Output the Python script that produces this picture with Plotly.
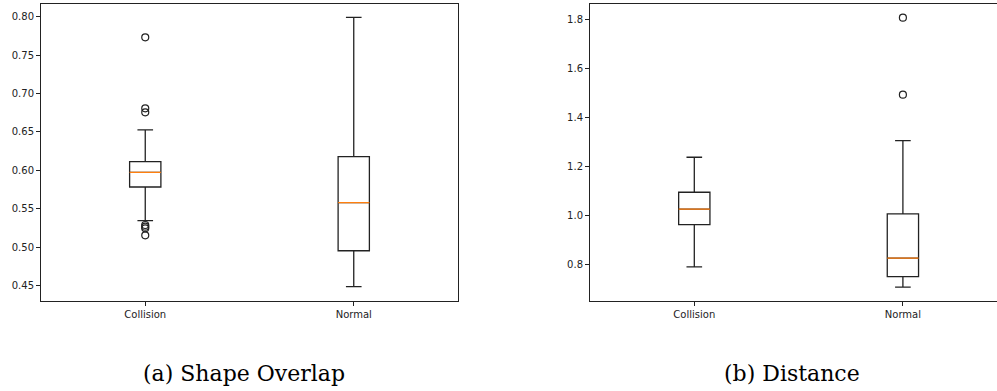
import plotly.graph_objects as go

# ---- data ----
categories = ["Collision", "Normal"]
positions = [1, 2]

# (a) Shape Overlap
overlap_lower = [0.5346, 0.4487]
overlap_q1 = [0.5784, 0.4955]
overlap_median = [0.5975, 0.5580]
overlap_q3 = [0.6113, 0.6179]
overlap_upper = [0.6526, 0.7992]
overlap_outliers_collision = [0.7732, 0.6808, 0.6756, 0.5290, 0.5268, 0.5247, 0.5156]
overlap_outliers_normal = []

# (b) Distance
dist_lower = [0.7890, 0.7064]
dist_q1 = [0.9616, 0.7497]
dist_median = [1.0243, 0.8247]
dist_q3 = [1.0936, 1.0052]
dist_upper = [1.2363, 1.3040]
dist_outliers_collision = []
dist_outliers_normal = [1.8053, 1.4915]

captions = ["(a) Shape Overlap", "(b) Distance"]

# ---- styling ----
BLACK = "#222222"
ORANGE = "#ff7f0e"
W, H = 997, 391
LW = 1.3

fig = go.Figure()


def add_panel(xa, ya, lower, q1, med, q3, upper, out_c, out_n):
    fig.add_trace(go.Box(
        x=positions, q1=q1, median=med, q3=q3, lowerfence=lower, upperfence=upper,
        width=0.15, whiskerwidth=0.5, boxpoints=False,
        line=dict(color=BLACK, width=LW), fillcolor="rgba(0,0,0,0)",
        xaxis=xa, yaxis=ya, showlegend=False, hoverinfo="skip"))
    # orange median line drawn as a degenerate box at the median
    fig.add_trace(go.Box(
        x=positions, q1=med, median=med, q3=med, lowerfence=med, upperfence=med,
        width=0.15, whiskerwidth=0, boxpoints=False,
        line=dict(color=ORANGE, width=1.2), fillcolor="rgba(0,0,0,0)",
        xaxis=xa, yaxis=ya, showlegend=False, hoverinfo="skip"))
    ox = [positions[0]] * len(out_c) + [positions[1]] * len(out_n)
    oy = list(out_c) + list(out_n)
    fig.add_trace(go.Scatter(
        x=ox, y=oy, mode="markers",
        marker=dict(symbol="circle-open", size=7, color=BLACK, line=dict(width=1.2)),
        xaxis=xa, yaxis=ya, showlegend=False, hoverinfo="skip"))


add_panel("x", "y", overlap_lower, overlap_q1, overlap_median, overlap_q3, overlap_upper,
          overlap_outliers_collision, overlap_outliers_normal)
add_panel("x2", "y2", dist_lower, dist_q1, dist_median, dist_q3, dist_upper,
          dist_outliers_collision, dist_outliers_normal)

tickfont = dict(family="DejaVu Sans", size=10, color=BLACK)


def px_x(x):  # window pixel -> paper fraction
    return x / W


def px_y(y):
    return (H - y) / H


ydom = [px_y(301), px_y(4.3)]

common_x = dict(tickmode="array", tickvals=positions, ticktext=categories,
                showgrid=False, zeroline=False, showline=True, linecolor=BLACK, linewidth=1,
                mirror=True, ticks="outside", ticklen=4, tickcolor=BLACK, tickfont=tickfont)
common_y = dict(showgrid=False, zeroline=False, showline=True, linecolor=BLACK, linewidth=1,
                ticks="outside", ticklen=4, tickcolor=BLACK, tickfont=tickfont, domain=ydom)

capfont = dict(family="DejaVu Serif", size=22, color="black")

fig.update_layout(
    width=W, height=H,
    margin=dict(l=0, r=0, t=0, b=0),
    paper_bgcolor="white", plot_bgcolor="white",
    boxmode="overlay",
    xaxis=dict(common_x, domain=[px_x(41), px_x(458)], range=[0.5, 2.5], anchor="y"),
    yaxis=dict(common_y, range=[0.4301, 0.8161], tickvals=[0.45, 0.50, 0.55, 0.60, 0.65, 0.70, 0.75, 0.80],
               tickformat=".2f", anchor="x", mirror=True),
    xaxis2=dict(common_x, domain=[px_x(590), 1.0], range=[0.5, 0.5 + (997 - 590) / 208.6], anchor="y2"),
    yaxis2=dict(common_y, range=[0.650, 1.860], tickvals=[0.8, 1.0, 1.2, 1.4, 1.6, 1.8],
                tickformat=".1f", anchor="x2"),
    annotations=[
        dict(text=captions[0], x=px_x(244), y=px_y(373), xref="paper", yref="paper",
             xanchor="center", yanchor="middle", showarrow=False, font=capfont),
        dict(text=captions[1], x=px_x(792), y=px_y(373), xref="paper", yref="paper",
             xanchor="center", yanchor="middle", showarrow=False, font=capfont),
    ],
)

fig.write_html("out.html",
               config={"displayModeBar": False},
               post_script="document.body.style.margin='0';document.body.style.overflow='hidden';")
